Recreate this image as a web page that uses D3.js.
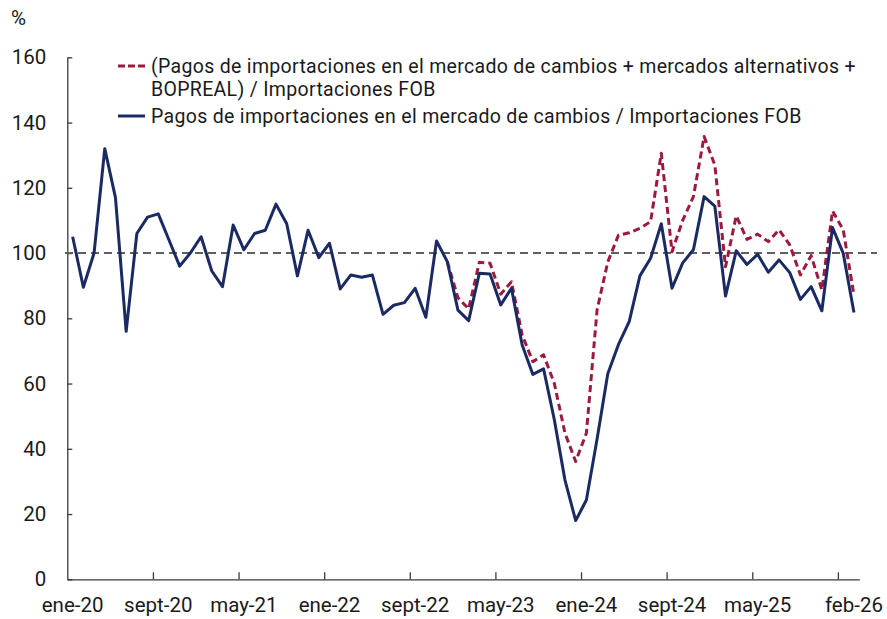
<!DOCTYPE html>
<html>
<head>
<meta charset="utf-8">
<script src="https://cdn.jsdelivr.net/npm/d3@7/dist/d3.min.js"></script>
<style>
  html, body { margin: 0; padding: 0; background: #fff; }
  svg text { font-family: Roboto, "Noto Sans", sans-serif; fill: #1a1a1a; }
</style>
</head>
<body>
<svg id="chart" width="887" height="619"></svg>
<script>
(function () {
// Monthly categories ene-20 .. feb-26 (74 months)
const monthNames = ["ene","feb","mar","abr","may","jun","jul","ago","sept","oct","nov","dic"];
const categories = [];
for (let yr = 20; yr <= 26; yr++) {
  for (let m = 0; m < 12; m++) {
    if (yr === 26 && m > 1) break;
    categories.push(monthNames[m] + "-" + yr);
  }
}

// Pagos de importaciones en el MLC / Importaciones FOB
const seriesMLC = [
  105, 89.5, 100, 132, 117, 76, 106, 111, 112, 104, 96, 100,
  105, 94.5, 89.7, 108.6, 101, 106, 107, 115, 109, 93, 107, 98.6,
  103, 89, 93.3, 92.6, 93.3, 81.2, 84, 84.8, 89.2, 80.3, 103.7, 97.4,
  82.5, 79.3, 93.8, 93.6, 84.1, 89.2, 71.8, 62.8, 64.5, 49, 30.4, 18,
  24.3, 43, 63, 72, 79, 93, 98.4, 109, 89.2, 97, 101, 117.3,
  114.4, 86.8, 100.7, 96.5, 99.6, 94.1, 97.9, 94, 85.8, 89.7, 82.3, 107.8,
  99.9, 81.8
];

// (MLC + mercados alternativos + BOPREAL) / Importaciones FOB — starts at index 35
const seriesTotalStart = 35;
const seriesTotal = [
  97.4, 86.3, 82.9, 97.2, 96.9, 87.4, 91.2, 74.9, 66.7, 68.8, 60.1, 44.8, 36.1,
  44.8, 82.6, 97.3, 105.5, 106.2, 107.6, 109.6, 130.6, 100.4, 110, 117.3, 135.7,
  127, 95.8, 111.4, 104.2, 105.8, 103.5, 107.1, 102.5, 93.3, 99.2, 88.7, 112.9,
  107.1, 87.1
];

const yTicks = [0, 20, 40, 60, 80, 100, 120, 140, 160];
const xLabelIdx = [0, 8, 16, 24, 32, 40, 48, 56, 64, 73];
const xTickIdx = [8, 16, 24, 32, 40, 48, 56, 64, 72];
const refValue = 100;

const legendLabels = [
  ["(Pagos de importaciones en el mercado de cambios + mercados alternativos +",
   "BOPREAL) / Importaciones FOB"],
  ["Pagos de importaciones en el mercado de cambios / Importaciones FOB"]
];

const colBlue = "#1b2a63";
const colRed = "#9e1a3d";

const svg = d3.select("#chart");
const pLeft = 67.3, pRight = 859.3, pTop = 57.3, pBottom = 579.3;

const x = d3.scaleLinear().domain([-0.5, categories.length - 0.5]).range([pLeft, pRight]);
const y = d3.scaleLinear().domain([0, 160]).range([pBottom, pTop]);

// Y axis
const yAxis = svg.append("g").attr("transform", `translate(${pLeft},0)`)
  .call(d3.axisLeft(y).tickValues(yTicks).tickSizeInner(-5).tickSizeOuter(0).tickPadding(21).tickFormat(d3.format("d")));
yAxis.select(".domain").attr("stroke", "#3a3a3a").attr("stroke-width", 1.3);
yAxis.selectAll(".tick line").attr("stroke", "#3a3a3a").attr("stroke-width", 1.3);
yAxis.selectAll(".tick text").attr("font-size", "20.5px").attr("fill", "#1a1a1a")
  .attr("font-family", "Roboto, sans-serif");

// X axis (ticks between categories, labels at category centres)
const xAxis = svg.append("g").attr("transform", `translate(0,${pBottom})`)
  .call(d3.axisBottom(x).tickValues(xTickIdx.map(i => i - 0.5)).tickSizeInner(-7).tickSizeOuter(0).tickFormat(""));
xAxis.select(".domain").attr("stroke", "#3a3a3a").attr("stroke-width", 1.3);
xAxis.selectAll(".tick line").attr("stroke", "#3a3a3a").attr("stroke-width", 1.3);

svg.append("g").selectAll("text").data(xLabelIdx).join("text")
  .attr("x", d => x(d))
  .attr("y", 612)
  .attr("text-anchor", "middle")
  .attr("font-size", "20.5px")
  .text(d => categories[d]);

// % label
svg.append("text").attr("x", 11).attr("y", 25).attr("font-size", "20.5px").text("%");

// Reference line at 100
svg.append("line")
  .attr("x1", 65).attr("x2", 877)
  .attr("y1", y(refValue)).attr("y2", y(refValue))
  .attr("stroke", "#5f5f5f").attr("stroke-width", 2).attr("stroke-dasharray", "8,5");

// Red dashed series
const redData = seriesTotal.map((v, k) => ({ i: k + seriesTotalStart, v }));
const line = d3.line().x(d => x(d.i)).y(d => y(d.v));
svg.append("path").datum(redData)
  .attr("d", line)
  .attr("fill", "none").attr("stroke", colRed).attr("stroke-width", 3)
  .attr("stroke-dasharray", "7,4").attr("stroke-linejoin", "round");

// Blue solid series
const blueData = seriesMLC.map((v, i) => ({ i, v }));
svg.append("path").datum(blueData)
  .attr("d", line)
  .attr("fill", "none").attr("stroke", colBlue).attr("stroke-width", 3)
  .attr("stroke-linejoin", "round");

// Legend
const lg = svg.append("g");
const legFont = "19.5px", legSpacing = "0.32px";
lg.append("line").attr("x1", 118).attr("x2", 145).attr("y1", 66).attr("y2", 66)
  .attr("stroke", colRed).attr("stroke-width", 3).attr("stroke-dasharray", "7,3");
lg.append("text").attr("x", 151).attr("y", 73).attr("font-size", legFont)
  .attr("letter-spacing", legSpacing).text(legendLabels[0][0]);
lg.append("text").attr("x", 151).attr("y", 96).attr("font-size", legFont)
  .attr("letter-spacing", legSpacing).text(legendLabels[0][1]);
lg.append("line").attr("x1", 118).attr("x2", 145).attr("y1", 116).attr("y2", 116)
  .attr("stroke", colBlue).attr("stroke-width", 3);
lg.append("text").attr("x", 151).attr("y", 123).attr("font-size", legFont)
  .attr("letter-spacing", legSpacing).text(legendLabels[1][0]);
})();
</script>
</body>
</html>
